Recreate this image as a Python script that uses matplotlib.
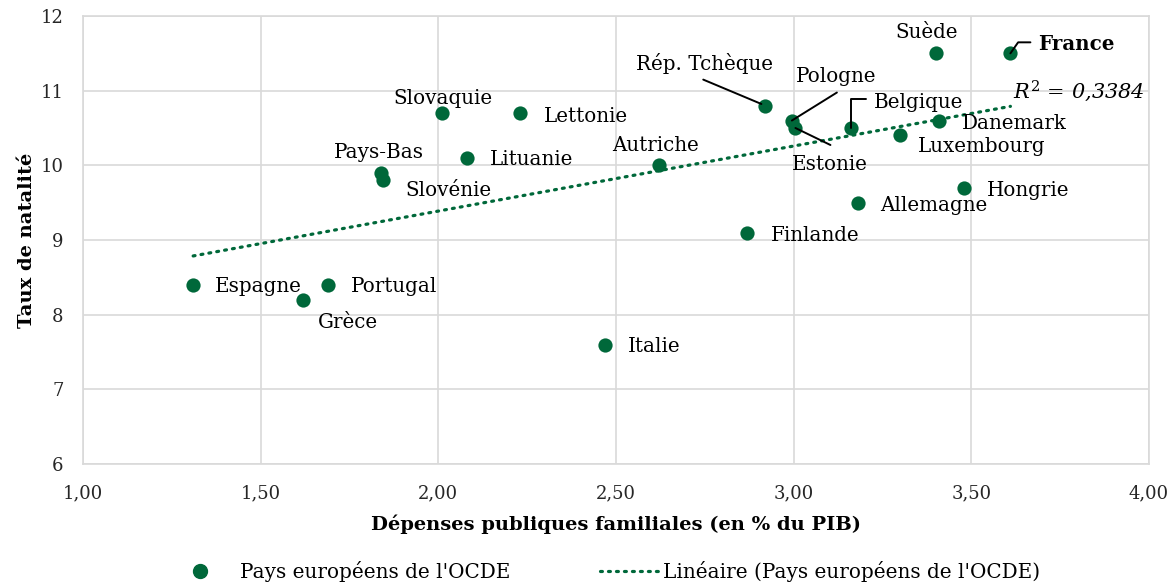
import numpy as np
import matplotlib
matplotlib.use('Agg')
import matplotlib.pyplot as plt
from matplotlib.lines import Line2D

# donnees
pays = ['Espagne', 'Grèce', 'Portugal', 'Pays-Bas', 'Slovénie', 'Slovaquie', 'Lettonie',
        'Lituanie', 'Autriche', 'Italie', 'Finlande', 'Rép. Tchèque', 'Pologne', 'Estonie',
        'Belgique', 'Luxembourg', 'Danemark', 'Suède', 'France', 'Hongrie', 'Allemagne']
depenses = [1.31, 1.62, 1.69, 1.84, 1.845, 2.01, 2.23,
            2.08, 2.62, 2.47, 2.87, 2.92, 2.995, 3.005,
            3.16, 3.30, 3.41, 3.40, 3.61, 3.48, 3.18]
natalite = [8.4, 8.2, 8.4, 9.9, 9.8, 10.7, 10.7,
            10.1, 10.0, 7.6, 9.1, 10.8, 10.6, 10.5,
            10.5, 10.4, 10.6, 11.5, 11.5, 9.7, 9.5]
r2_texte = '0,3384'

x_ticks = [1.0, 1.5, 2.0, 2.5, 3.0, 3.5, 4.0]
y_ticks = [6, 7, 8, 9, 10, 11, 12]

vert = '#00683a'
gris = '#d9d9d9'
police = 'DejaVu Serif'
plt.rcParams['font.family'] = [police, 'DejaVu Sans']
plt.rcParams['mathtext.fontset'] = 'dejavuserif'

# position des etiquettes (decalage en pixels, alignement horizontal)
decalages = {
    'Espagne': (22, -2, 'left'), 'Grèce': (45, -23, 'center'), 'Portugal': (23, -2, 'left'),
    'Pays-Bas': (-3, 20, 'center'), 'Slovénie': (22, -10, 'left'),
    'Slovaquie': (1, 15, 'center'), 'Lettonie': (24, -3, 'left'),
    'Lituanie': (23, -2, 'left'), 'Autriche': (-3, 20, 'center'), 'Italie': (23, -2, 'left'),
    'Finlande': (23, -3, 'left'), 'Rép. Tchèque': (-61, 42, 'center'),
    'Pologne': (44, 44, 'center'), 'Estonie': (34, -36, 'center'),
    'Belgique': (23, 26, 'left'), 'Luxembourg': (18, -11, 'left'),
    'Danemark': (23, -3, 'left'), 'Suède': (-9, 21, 'center'), 'France': (28, 9, 'left'),
    'Hongrie': (23, -3, 'left'), 'Allemagne': (22, -3, 'left'),
}
# traits de rappel : (depart en pixels, style de connexion, retrait)
rappels = {
    'Rép. Tchèque': ((-62, 26), 'arc3', 3),
    'Pologne': ((45, 28), 'arc3', 0),
    'Estonie': ((35, -17), 'arc3', 0),
    'Belgique': ((15, 29), 'angle,angleA=0,angleB=90,rad=0', 0),
    'France': ((20, 11), 'angle,angleA=0,angleB=55,rad=0', 0),
}

fig = plt.figure(figsize=(11.76, 5.84), dpi=100)
ax = fig.add_axes([83 / 1176, 120 / 584, 1066 / 1176, 448 / 584])

# droite de tendance
x = np.array(depenses)
y = np.array(natalite)
pente, ordo = np.polyfit(x, y, 1)
xs = np.array([x.min(), x.max()])
ax.plot(xs, pente * xs + ordo, color=vert, lw=2.3, linestyle=(0, (0.6, 1.9)),
        dash_capstyle='round', zorder=2)

ax.scatter(x, y, s=105, color=vert, zorder=3, linewidths=0)

for nom, xi, yi in zip(pays, depenses, natalite):
    dx, dy, ha = decalages[nom]
    ax.annotate(nom, (xi, yi), xytext=(dx, dy), textcoords='offset pixels',
                ha=ha, va='center', fontsize=14.3,
                fontweight='bold' if nom == 'France' else 'normal', zorder=4)
    if nom in rappels:
        depart, style, retrait = rappels[nom]
        ax.annotate('', (xi, yi), xytext=depart, textcoords='offset pixels',
                    arrowprops=dict(arrowstyle='-', color='black', lw=1.4,
                                    shrinkA=0, shrinkB=retrait, connectionstyle=style),
                    zorder=4)

ax.annotate('$R^{2}$ = ' + r2_texte, (xs[1], pente * xs[1] + ordo),
            xytext=(3, 15), textcoords='offset pixels', ha='left', va='center',
            fontsize=15, style='italic')

ax.set_xlim(1, 4)
ax.set_ylim(6, 12)
ax.set_xticks(x_ticks)
ax.set_xticklabels([f'{v:.2f}'.replace('.', ',') for v in x_ticks])
ax.set_yticks(y_ticks)
ax.tick_params(length=0, labelsize=13, colors='#262626')
ax.tick_params(axis='y', pad=14)
ax.tick_params(axis='x', pad=14.5)
ax.grid(True, color=gris, lw=1.2)
ax.set_axisbelow(True)
for sp in ax.spines.values():
    sp.set_color(gris)
    sp.set_linewidth(1.2)

ax.set_xlabel('Dépenses publiques familiales (en % du PIB)', fontsize=14,
              fontweight='bold', labelpad=9)
ax.set_ylabel('Taux de natalité', fontsize=14, fontweight='bold', labelpad=3)

# legendes
h1 = Line2D([], [], marker='o', color=vert, linestyle='none', markersize=10)
h2 = Line2D([], [], color=vert, lw=2.3, linestyle=(0, (0.6, 1.9)), dash_capstyle='round')
fig.legend([h1], ["Pays européens de l'OCDE"], loc='center left',
           bbox_to_anchor=(190 / 1176, 13 / 584), frameon=False, fontsize=14.4,
           handlelength=1, handletextpad=1.5, borderpad=0, borderaxespad=0)
fig.legend([h2], ["Linéaire (Pays européens de l'OCDE)"], loc='center left',
           bbox_to_anchor=(600 / 1176, 13 / 584), frameon=False, fontsize=14.4,
           handlelength=3.0, handletextpad=0.15, borderpad=0, borderaxespad=0)

fig.savefig('out.png', dpi=100)
